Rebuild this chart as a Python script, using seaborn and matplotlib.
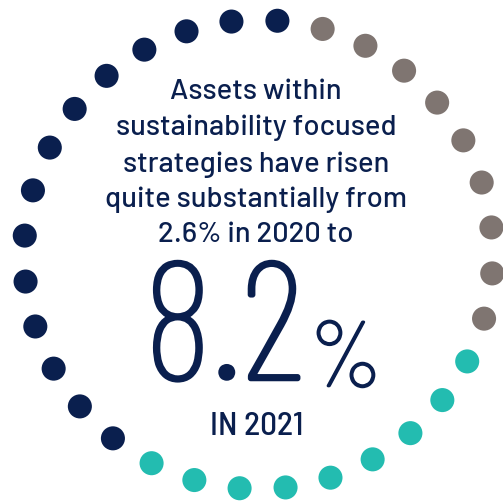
import numpy as np
import pandas as pd
import matplotlib
matplotlib.use("Agg")
import matplotlib.pyplot as plt
import matplotlib.patheffects as pe
import seaborn as sns

# Data: dots per group around the ring
groups = ["Navy", "Gray", "Teal"]
dot_counts = [14, 9, 9]
palette = {"Navy": "#0a1f4e", "Gray": "#7f7571", "Teal": "#23bcb0"}

headline_lines = ["Assets within", "sustainability focused", "strategies have risen",
                  "quite substantially from", "2.6% in 2020 to"]
big_value = "8.2"
big_unit = "%"
footer = "IN 2021"

sns.set_theme(style="white")
FAM = ['Barlow Semi Condensed', 'Roboto Condensed', 'Roboto', 'DejaVu Sans']
FAM_WIDE = ['Barlow', 'Roboto', 'DejaVu Sans']
FAM_BIG = ['Barlow Condensed', 'Barlow Semi Condensed', 'Roboto Condensed', 'DejaVu Sans']
plt.rcParams['font.family'] = FAM

W, H = 503, 502
fig = plt.figure(figsize=(W / 100, H / 100), dpi=100)
ax = fig.add_axes([0, 0, 1, 1])

# ring layout: gray starts just right of top going clockwise, then teal, then navy
total = sum(dot_counts)
order = ["Gray", "Teal", "Navy"]
labels = []
for g in order:
    labels += [g] * dot_counts[groups.index(g)]
step = 360.0 / total
offset = step / 2 - 1.0
cx, cy, r = 258.5, 255.5, 234.5
angles = np.deg2rad(offset + step * (np.arange(total) + 1))
df = pd.DataFrame({
    "x": cx + r * np.sin(angles),
    "y": cy - r * np.cos(angles),
    "group": labels,
})
sns.scatterplot(data=df, x="x", y="y", hue="group", palette=palette, s=300,
                linewidth=0, legend=False, ax=ax)
ax.set_xlim(0, W)
ax.set_ylim(H, 0)
ax.axis("off")

navy = palette["Navy"]
line_y = [92, 128, 165, 200, 235]
for t, y in zip(headline_lines, line_y):
    ax.text(256, y, t, ha="center", va="center", fontsize=21, fontweight="medium",
            color=navy, family=FAM_WIDE)

thick = [pe.withStroke(linewidth=1.8, foreground=navy)]
ax.text(224, 339, big_value, ha="center", va="center", fontsize=121,
        fontweight="light", color=navy, family=FAM_BIG, path_effects=thick)
ax.text(346, 364, big_unit, ha="center", va="center", fontsize=67,
        fontweight="light", color=navy, family=FAM_BIG,
        path_effects=[pe.withStroke(linewidth=1.2, foreground=navy)])
ax.text(257, 427, footer, ha="center", va="center", fontsize=24,
        fontweight="medium", color=navy)

fig.savefig("out.png", dpi=100)
